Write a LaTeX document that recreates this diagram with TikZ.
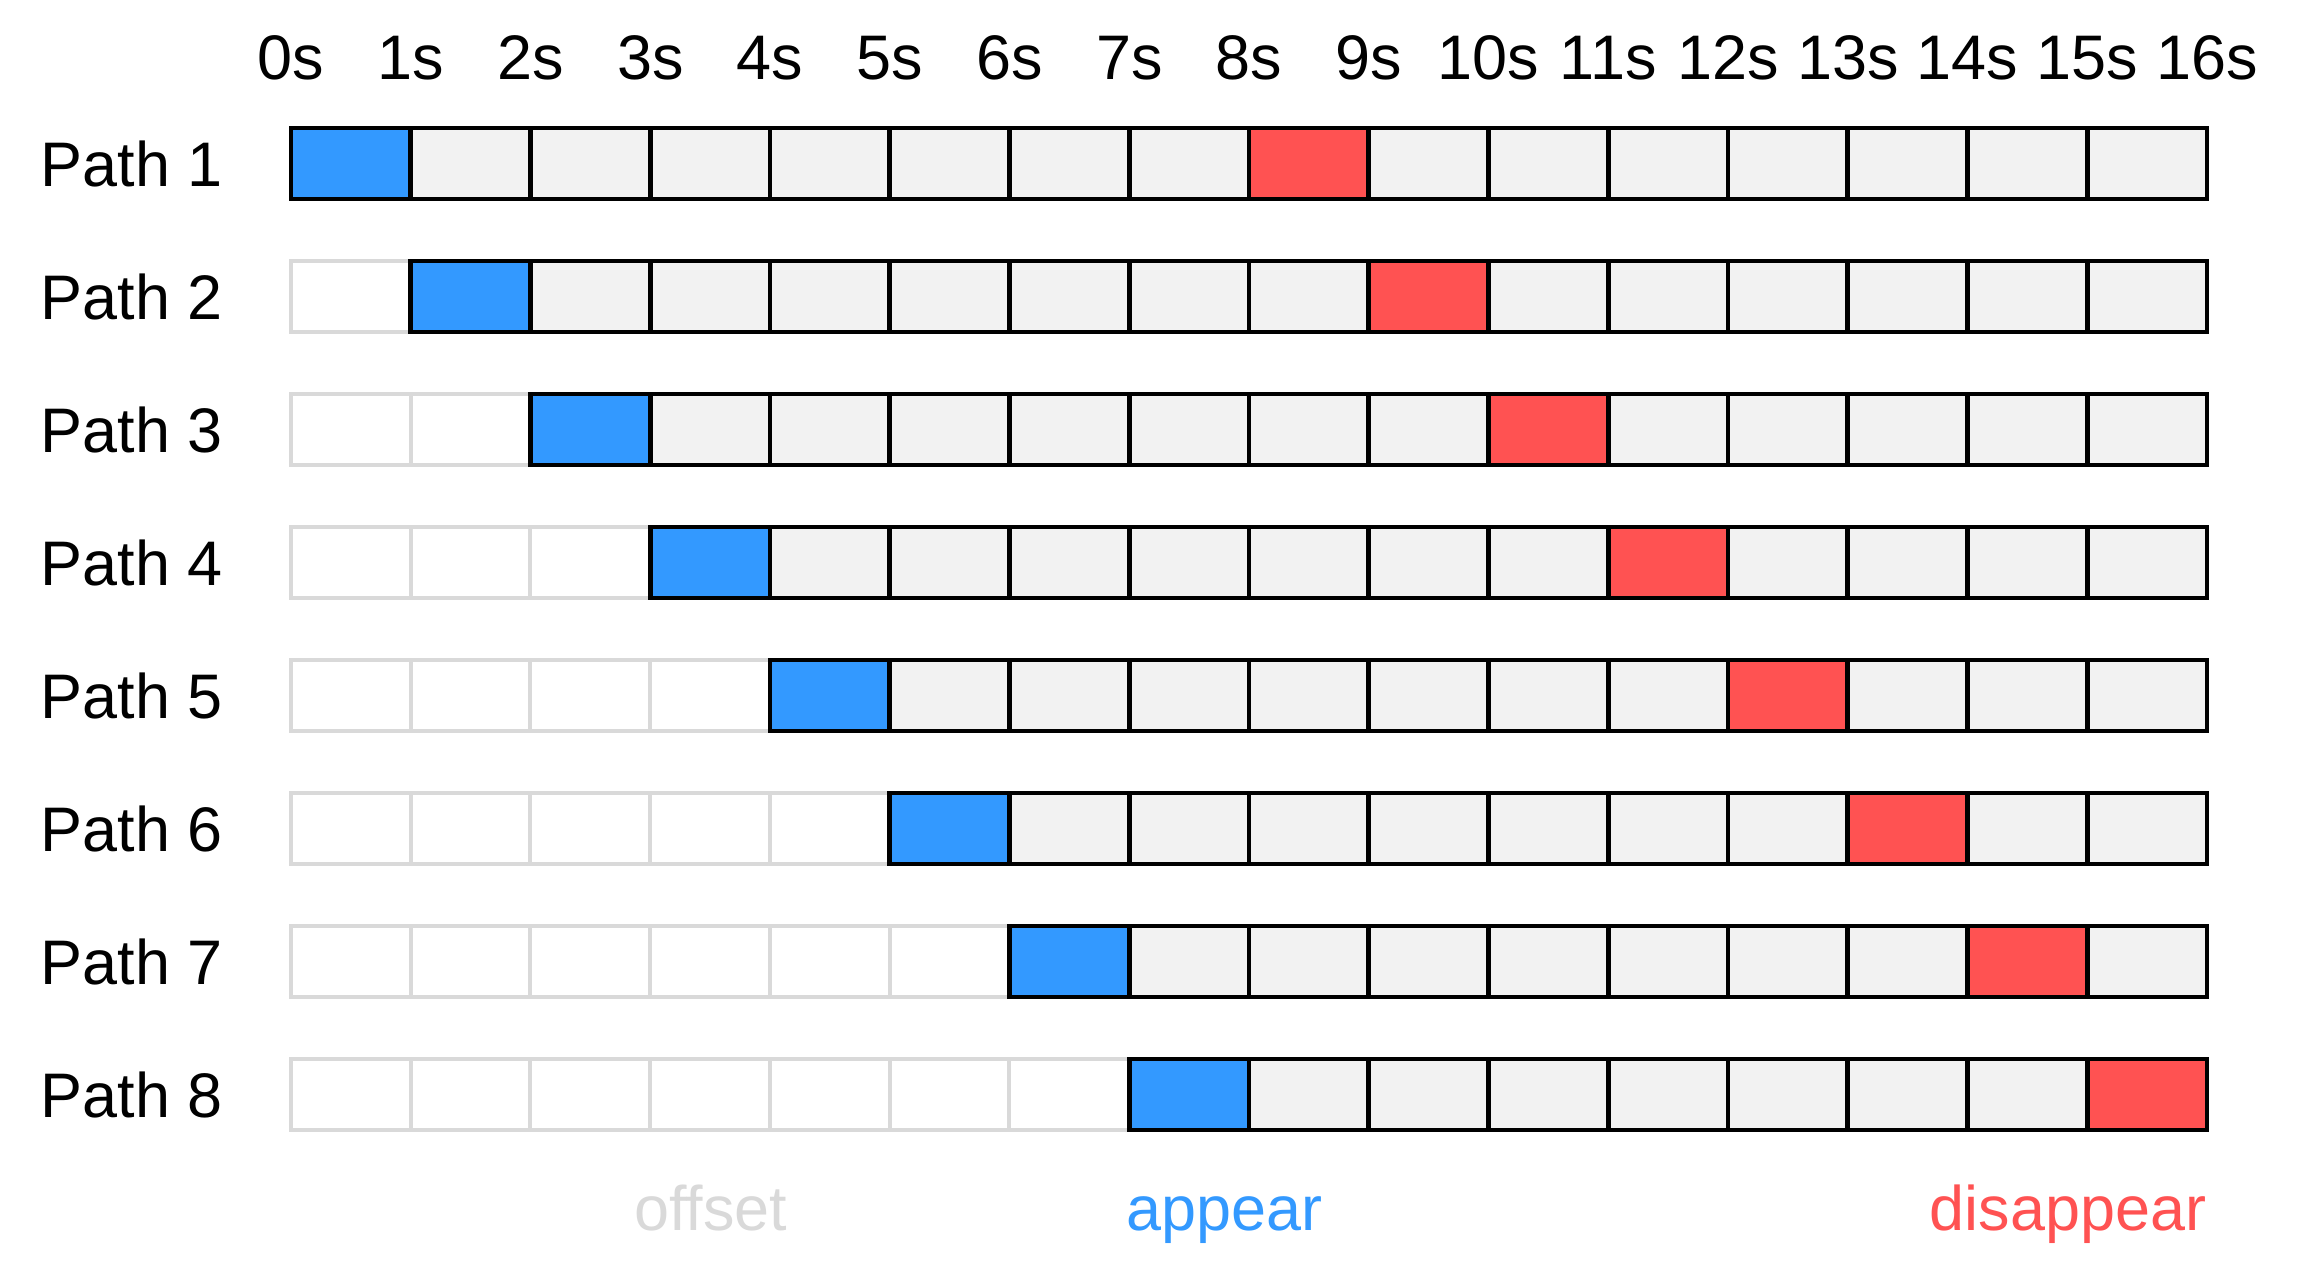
\documentclass[tikz,border=0pt]{standalone}
\usepackage{fontspec}
\setmainfont{Liberation Sans}
\usetikzlibrary{positioning}
\definecolor{appearblue}{HTML}{3399FF}
\definecolor{vanishred}{HTML}{FF5252}
\definecolor{idlegray}{HTML}{F2F2F2}
\definecolor{offsetgray}{HTML}{D9D9D9}

\begin{document}
\begin{tikzpicture}[x=0.01cm, y=-0.01cm,
  cell/.style={draw, line width=0.046cm, minimum width=1.1975cm,
               minimum height=0.71cm, inner sep=0pt, outer sep=0pt},
  s0/.style={cell, draw=offsetgray, fill=white, line width=0.04cm},
  s1/.style={cell, fill=appearblue},
  s2/.style={cell, fill=idlegray},
  s3/.style={cell, fill=vanishred},
  lbl/.style={font=\fontsize{17.9}{20}\selectfont, inner sep=0pt}
]
\useasboundingbox (0,0) rectangle (2318,1285);

% time axis
\foreach \t in {0,...,16}
  \node[lbl, anchor=base] (t\t) at (291+119.75*\t,80) {\t s};

% one row per path: offset, appear, idle, disappear
\foreach \r in {1,...,8}{
  \pgfmathsetmacro\yc{163.5+133*(\r-1)}
  \node[lbl, anchor=base west] (path\r) at (40,\yc+23) {Path \r};
  \foreach \k in {0,...,15}{
    \pgfmathsetmacro\xc{291+119.75*(\k+0.5)}
    \pgfmathtruncatemacro\st{\k<\r-1 ? 0 : (\k==\r-1 ? 1 : (\k==\r+7 ? 3 : 2))}
    \node[s\st] (c\r-\k) at (\xc,\yc) {};
  }
}

% legend
\node[lbl, anchor=base, text=offsetgray] (offset) at (711,1230) {offset};
\node[lbl, anchor=base west, text=appearblue] (appear) at (1126,1230) {appear};
\node[lbl, anchor=base east, text=vanishred] (disappear) at (2207,1230) {disappear};
\end{tikzpicture}
\end{document}
